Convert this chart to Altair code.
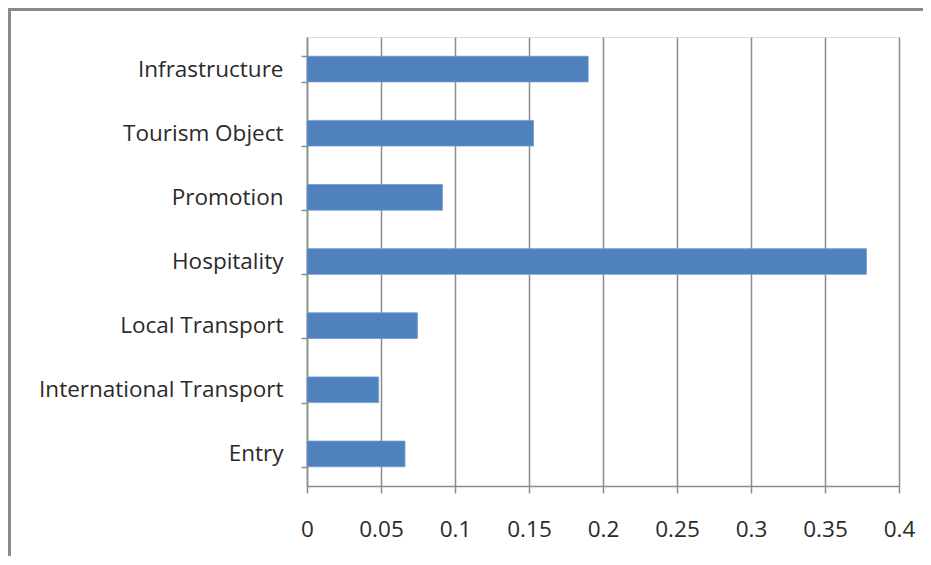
import altair as alt
import pandas as pd

categories = ["Infrastructure", "Tourism Object", "Promotion", "Hospitality",
              "Local Transport", "International Transport", "Entry"]
values = [0.190, 0.153, 0.0915, 0.378, 0.0746, 0.0484, 0.0662]
x_ticks = [0, 0.05, 0.1, 0.15, 0.2, 0.25, 0.3, 0.35, 0.4]

df = pd.DataFrame({"category": categories, "value": values})

FONT = "Open Sans"
FS = 22.5
GRID = "#8c8c8c"

bars = alt.Chart(df).mark_bar(color="#4F81BD", stroke="#6f9bd1", strokeWidth=0.8).encode(
    x=alt.X("value:Q",
            scale=alt.Scale(domain=[0, 0.4], nice=False, zero=True),
            axis=alt.Axis(values=x_ticks, format="~g", title=None,
                          grid=True, gridColor=GRID, gridWidth=1.5,
                          domainColor=GRID, domainWidth=1.5,
                          tickColor=GRID, tickWidth=1.5, tickSize=7,
                          labelPadding=25, labelFont=FONT, labelFontSize=FS,
                          labelColor="#2a2a2a", labelFlush=False)),
    y=alt.Y("category:N", sort=categories,
            scale=alt.Scale(paddingInner=0.6, paddingOuter=0.3),
            axis=alt.Axis(title=None, tickBand="extent", grid=False,
                          domainColor=GRID, domainWidth=1.5,
                          tickColor=GRID, tickWidth=1.5, tickSize=6,
                          labelPadding=18, labelFont=FONT, labelFontSize=FS,
                          labelColor="#2a2a2a", labelLimit=400)),
)

frame_left = alt.Chart(df).mark_rule(color="#8a8a8a", strokeWidth=3).encode(
    x=alt.value(-298), y=alt.value(-29), y2=alt.value(600))
frame_top = alt.Chart(df).mark_rule(color="#8a8a8a", strokeWidth=3).encode(
    x=alt.value(-299), x2=alt.value(700), y=alt.value(-28))

chart = alt.layer(bars, frame_left, frame_top).properties(
    width=592, height=449,
    autosize=alt.AutoSizeParams(type="none"),
    padding={"left": 299, "top": 29, "right": 24, "bottom": 70},
).configure_view(stroke=None).configure(background="white")

chart.save("out.html", embed_options={"renderer": "svg", "actions": False})
